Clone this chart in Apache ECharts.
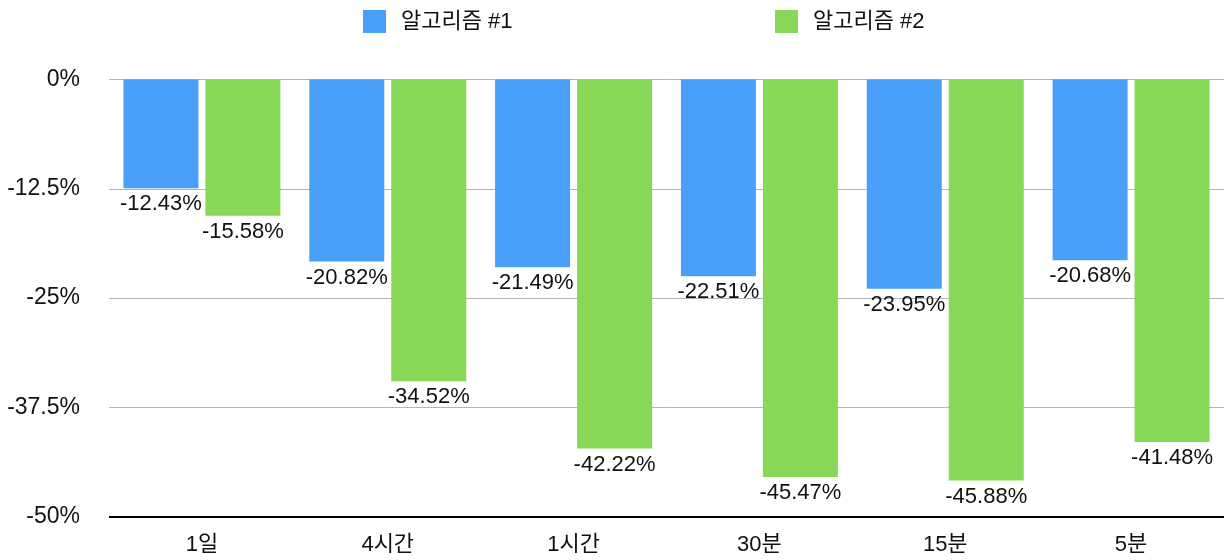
<!DOCTYPE html>
<html>
<head>
<meta charset="utf-8">
<script src="https://cdn.jsdelivr.net/npm/echarts@6/dist/echarts.min.js"></script>
<style>html,body{margin:0;padding:0;background:#fff;}#c{width:1224px;height:560px;}</style>
</head>
<body>
<div id="c"></div>
<script>
const categories = ['1일', '4시간', '1시간', '30분', '15분', '5분'];
const seriesNames = ['알고리즘 #1', '알고리즘 #2'];
const algo1 = [-12.43, -20.82, -21.49, -22.51, -23.95, -20.68];
const algo2 = [-15.58, -34.52, -42.22, -45.47, -45.88, -41.48];
const yTicks = { min: -50, max: 0, interval: 12.5 };

const FONT = "'Liberation Sans', 'Noto Sans CJK KR', Arial, sans-serif";
const chart = echarts.init(document.getElementById('c'));
const labelCfg = {
  show: true, position: 'bottom', distance: 5,
  color: '#111', fontSize: 22, fontFamily: FONT,
  formatter: p => p.value.toFixed(2) + '%'
};
const legendText = { fontSize: 22, color: '#111', fontFamily: FONT, padding: [0, 0, 0, 10] };
chart.setOption({
  animation: false,
  textStyle: { fontFamily: FONT },
  legend: [
    { data: [seriesNames[0]], left: 358, top: 5, itemWidth: 23, itemHeight: 23,
      icon: 'rect', textStyle: legendText },
    { data: [seriesNames[1]], left: 770, top: 5, itemWidth: 23, itemHeight: 23,
      icon: 'rect', textStyle: legendText }
  ],
  grid: { left: 109, right: 0, top: 79.5, bottom: 43.5, containLabel: false },
  xAxis: {
    type: 'category', data: categories,
    axisLine: { show: false },
    axisTick: { show: false },
    axisLabel: { color: '#111', fontSize: 22, fontFamily: FONT, margin: 17 }
  },
  yAxis: {
    type: 'value', min: yTicks.min, max: yTicks.max, interval: yTicks.interval,
    axisLine: { show: false }, axisTick: { show: false },
    axisLabel: { color: '#111', fontSize: 23, fontFamily: FONT, margin: 29,
      formatter: v => v + '%' },
    splitLine: { lineStyle: { color: '#b4b4b4', width: 1 } }
  },
  series: [
    { name: seriesNames[0], type: 'bar', data: algo1, barWidth: 75, barGap: '9.3%',
      itemStyle: { color: '#4aa0f8' }, label: labelCfg },
    { name: seriesNames[1], type: 'bar', data: algo2, barWidth: 75, barGap: '9.3%',
      itemStyle: { color: '#86d856' }, label: labelCfg },
    { type: 'line', data: [], markLine: { silent: true, symbol: 'none', label: { show: false },
      lineStyle: { color: '#000', width: 2, type: 'solid' }, data: [{ yAxis: yTicks.min }] } }
  ]
});
</script>
</body>
</html>
